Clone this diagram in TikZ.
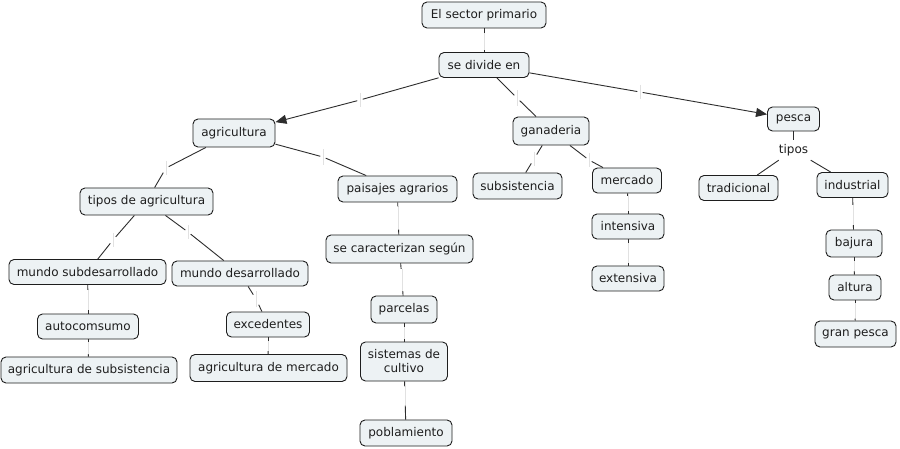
\documentclass[tikz,border=0pt]{standalone}
\usepackage{fontspec}
\setmainfont{DejaVu Sans}
\usetikzlibrary{arrows.meta}
\definecolor{nodefill}{RGB}{237,242,244}
\definecolor{nodeline}{RGB}{30,30,30}
\definecolor{linkline}{RGB}{45,45,45}
\definecolor{gapline}{RGB}{225,225,225}
\definecolor{txt}{RGB}{30,30,30}
\newcommand\cmlink[6]{%
  \node[lab, minimum height=#5pt] (#6) at (#3,#4) {};
  \draw[gapl] (#6.north) -- (#6.south);
  \draw[conn] (#1) -- (#6);
  \draw[conn] (#6) -- (#2);}
\newcommand\cmarrow[6]{%
  \node[lab, minimum height=#5pt] (#6) at (#3,#4) {};
  \draw[gapl] (#6.north) -- (#6.south);
  \draw[conn] (#1) -- (#6);
  \draw[conn, -{Triangle[length=11pt,width=9pt]}] (#6) -- (#2);}
\begin{document}
\begin{tikzpicture}[x=1pt,y=-1pt,
  concept/.style={draw=nodeline, fill=nodefill, rounded corners=5pt, line width=0.9pt,
    inner sep=0pt, font=\fontsize{12}{14}\selectfont, text=txt, align=center},
  lab/.style={inner sep=0pt, minimum width=5pt},
  conn/.style={draw=linkline, line width=0.9pt},
  gapl/.style={draw=gapline, line width=1pt}]
\useasboundingbox[fill=white] (0,0) rectangle (900,449);

% concepts
\node[concept, minimum width=124pt, minimum height=26pt] (sector) at (484,15) {El sector primario};
\node[concept, minimum width=90pt, minimum height=25pt] (divide) at (484,65) {se divide en};
\node[concept, minimum width=82pt, minimum height=28pt] (agri) at (234,133) {agricultura};
\node[concept, minimum width=76pt, minimum height=28pt] (gana) at (551,131) {ganaderia};
\node[concept, minimum width=52pt, minimum height=24pt] (pesca) at (793.5,119) {pesca};
\node[inner sep=0pt, minimum width=36pt, minimum height=20pt, font=\fontsize{12}{14}\selectfont, text=txt] (tiposp) at (793.5,150) {tipos};
\node[concept, minimum width=133pt, minimum height=27pt] (tiposag) at (146.5,201.5) {tipos de agricultura};
\node[concept, minimum width=119pt, minimum height=26pt] (paisajes) at (397.5,189) {paisajes agrarios};
\node[concept, minimum width=89pt, minimum height=26pt] (subs) at (517.5,186) {subsistencia};
\node[concept, minimum width=69pt, minimum height=25pt] (merc) at (627,180.5) {mercado};
\node[concept, minimum width=79pt, minimum height=25pt] (trad) at (738.5,188) {tradicional};
\node[concept, minimum width=71pt, minimum height=25pt] (indus) at (852.5,185) {industrial};
\node[concept, minimum width=157pt, minimum height=25pt] (msub) at (87.5,272) {mundo subdesarrollado};
\node[concept, minimum width=136pt, minimum height=25pt] (mdes) at (240,273.5) {mundo desarrollado};
\node[concept, minimum width=101pt, minimum height=25pt] (autoc) at (88,326.5) {autocomsumo};
\node[concept, minimum width=83pt, minimum height=25pt] (exced) at (268,324.5) {excedentes};
\node[concept, minimum width=176pt, minimum height=26pt] (agsub) at (89,370) {agricultura de subsistencia};
\node[concept, minimum width=157pt, minimum height=27pt] (agmer) at (268.5,368) {agricultura de mercado};
\node[concept, minimum width=147pt, minimum height=28pt] (secar) at (399.5,249) {se caracterizan según};
\node[concept, minimum width=66pt, minimum height=27pt] (parc) at (404,309.5) {parcelas};
\node[concept, minimum width=87pt, minimum height=39pt] (sist) at (404,361.5) {sistemas de\\cultivo};
\node[concept, minimum width=92pt, minimum height=26pt] (pobl) at (406,433) {poblamiento};
\node[concept, minimum width=72pt, minimum height=25pt] (inten) at (628,226.5) {intensiva};
\node[concept, minimum width=72pt, minimum height=25pt] (exten) at (628,278.5) {extensiva};
\node[concept, minimum width=56pt, minimum height=27pt] (bajura) at (854,243.5) {bajura};
\node[concept, minimum width=52pt, minimum height=25pt] (altura) at (855,287.5) {altura};
\node[concept, minimum width=81pt, minimum height=26pt] (granp) at (855.5,334) {gran pesca};

% connectors
\cmlink{sector}{divide}{484}{41.5}{17}{l1}
\cmarrow{divide}{agri}{360}{100}{13}{l2}
\cmlink{divide}{gana}{517}{98}{15}{l3}
\cmarrow{divide}{pesca}{640}{92}{14}{l4}
\cmlink{agri}{tiposag}{166}{168}{14}{l5}
\cmlink{agri}{paisajes}{323}{157}{15}{l6}
\cmlink{gana}{subs}{534}{159}{14}{l7}
\cmlink{gana}{merc}{589}{160}{14}{l8}
\draw[conn] (pesca) -- (tiposp);
\draw[conn] (tiposp) -- (trad);
\draw[conn] (tiposp) -- (indus);
\cmlink{tiposag}{msub}{113}{240}{14}{l10}
\cmlink{tiposag}{mdes}{188}{232}{14}{l11}
\cmlink{msub}{autoc}{88}{300}{20}{l12}
\cmlink{mdes}{exced}{256}{299}{15}{l13}
\cmlink{autoc}{agsub}{88}{348}{12}{l14}
\cmlink{exced}{agmer}{268}{346}{10}{l15}
\cmlink{paisajes}{secar}{398}{218}{23}{l16}
\cmlink{secar}{parc}{402}{280}{22}{l17}
\cmlink{parc}{sist}{404}{333}{12}{l18}
\cmlink{sist}{pobl}{405}{396}{19}{l19}
\cmlink{merc}{inten}{628}{203.5}{15}{l20}
\cmlink{inten}{exten}{628}{253}{20}{l21}
\cmlink{indus}{bajura}{853}{215}{20}{l22}
\cmlink{bajura}{altura}{854}{266}{10}{l23}
\cmlink{altura}{granp}{855}{311}{15}{l24}
\end{tikzpicture}
\end{document}
